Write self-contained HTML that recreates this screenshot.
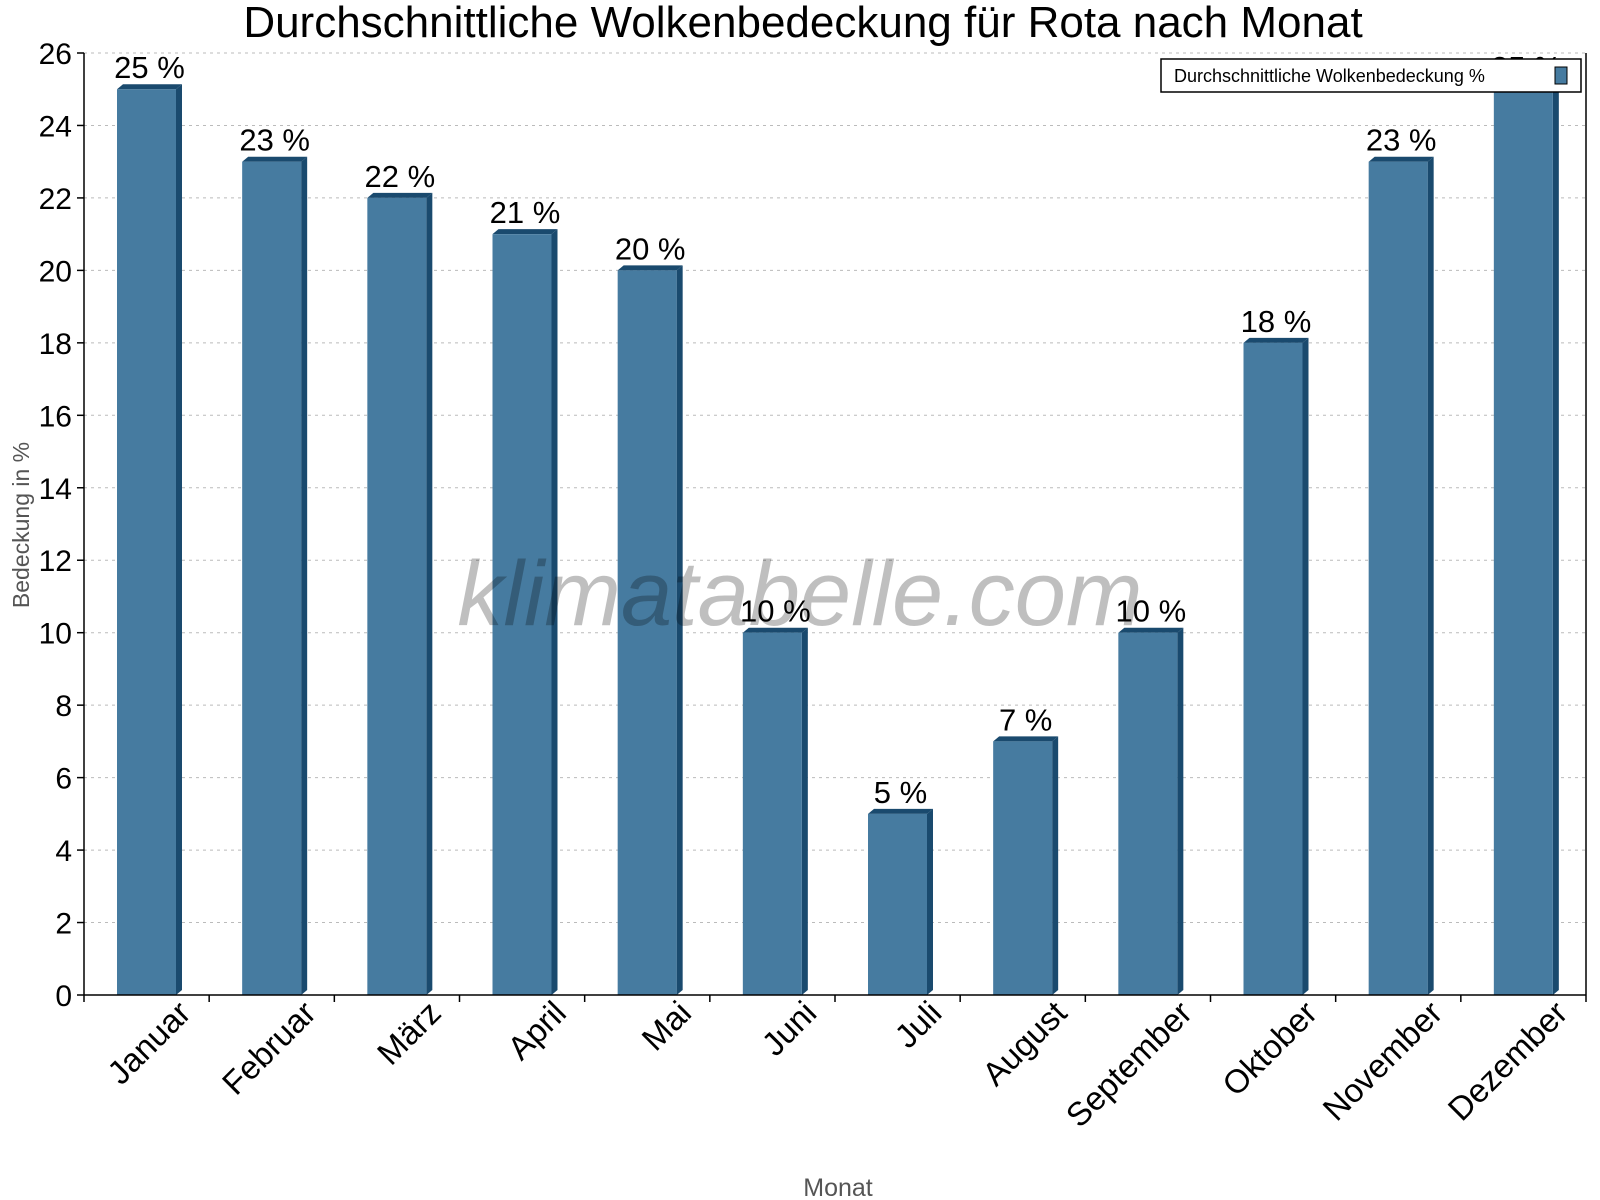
<!DOCTYPE html>
<html><head><meta charset="utf-8"><style>body{margin:0;background:#fff}svg{display:block;font-family:"Liberation Sans",sans-serif}</style></head>
<body>
<svg id="chart" width="1600" height="1200">
<text x="803" y="37" font-size="44" text-anchor="middle">Durchschnittliche Wolkenbedeckung für Rota nach Monat</text>
<text x="0" y="0" transform="translate(29,525) rotate(-90)" font-size="23" fill="#555" text-anchor="middle">Bedeckung in %</text>
<text x="838" y="1196" font-size="25" fill="#555" text-anchor="middle">Monat</text>
<g id="grid"></g><g id="bars"></g><g id="axes"></g>
<text x="800" y="625" font-size="92" font-style="italic" fill="#000" fill-opacity="0.25" text-anchor="middle">klimatabelle.com</text>
<g>
<rect x="1161" y="59" width="420" height="33" fill="#fff" stroke="#000" stroke-width="1.5"/>
<text x="1174" y="82" font-size="18">Durchschnittliche Wolkenbedeckung %</text>
<rect x="1555" y="67" width="12" height="17" fill="#467ba0" stroke="#000" stroke-width="1"/>
</g>
</svg>
<script>
const months=["Januar","Februar","März","April","Mai","Juni","Juli","August","September","Oktober","November","Dezember"];
const values=[25,23,22,21,20,10,5,7,10,18,23,25];
const yTicks=[0,2,4,6,8,10,12,14,16,18,20,22,24,26];
const NS="http://www.w3.org/2000/svg";
const L=84,R=1586,B=995,T=53,YMAX=26;
const cw=(R-L)/months.length;
const y=v=>B-(v/YMAX)*(B-T);
const xc=i=>L+i*cw;
function mk(t,a,p){const e=document.createElementNS(NS,t);for(const k in a)e.setAttribute(k,a[k]);p.appendChild(e);return e;}
const grid=document.getElementById('grid'),bars=document.getElementById('bars'),axes=document.getElementById('axes');
yTicks.forEach(v=>{
 if(v>0){const g=mk('line',{x1:L,x2:R,y1:y(v),y2:y(v),stroke:'#bbb','stroke-dasharray':'3,4'},grid);
 
 }
 const tk=mk('line',{x1:L-7,x2:L,y1:y(v),y2:y(v),stroke:'#000','stroke-width':1.5},axes);
 
 
 const t=mk('text',{x:L-12,y:y(v)+11,'font-size':30,'text-anchor':'end'},axes);t.textContent=v;
 
 
});
values.forEach((v,i)=>{
 const x0=xc(i)+33,w=59,d=6,top=y(v);
 const g=mk('g',{},bars);
 
 
 mk('polygon',{points:`${x0+w},${top} ${x0+w+d},${top-5} ${x0+w+d},${B-5} ${x0+w},${B}`,fill:'#1a4a6e'},g);
 mk('polygon',{points:`${x0},${top} ${x0+d},${top-5} ${x0+w+d},${top-5} ${x0+w},${top}`,fill:'#1a4a6e'},g);
 mk('rect',{x:x0,y:top,width:w,height:B-top,fill:'#467ba0'},g);
 const t=mk('text',{x:x0+w/2+3,y:top-11,'font-size':31,'text-anchor':'middle'},bars);t.textContent=v+' %';
 
 
 const lb=mk('text',{x:0,y:0,'font-size':33,'text-anchor':'end',transform:`translate(${xc(i)+cw/2+46},${B+20}) rotate(-45)`},axes);lb.textContent=months[i];
 
 
 const tk=mk('line',{x1:xc(i+1),x2:xc(i+1),y1:B,y2:B+7,stroke:'#000','stroke-width':1.5},axes);
 
 
});
const ya=mk('line',{x1:L,x2:L,y1:T,y2:B+7,stroke:'#000','stroke-width':1.5},axes);


const ya2=mk('line',{x1:R,x2:R,y1:T,y2:B,stroke:'#000','stroke-width':1.5},axes);


const xa=mk('line',{x1:L,x2:R,y1:B,y2:B,stroke:'#000','stroke-width':1.5},axes);


</script>
</body></html>
